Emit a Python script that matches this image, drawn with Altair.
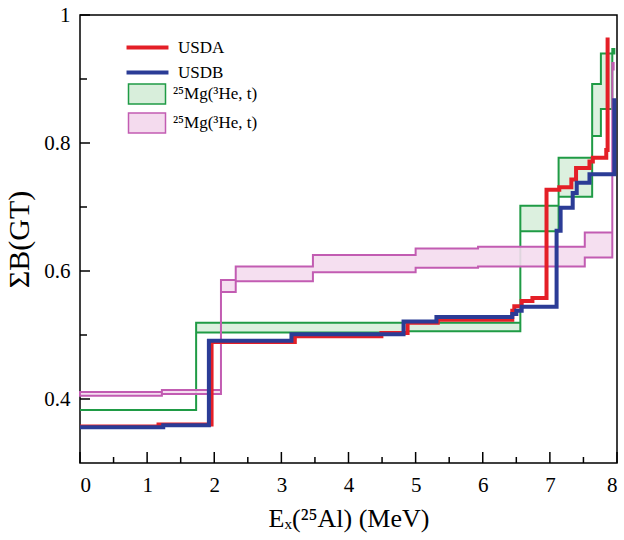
import altair as alt
import pandas as pd

# ---- data ----
usda_e = [0, 1.17, 1.96, 3.2, 4.49, 4.88, 5.33, 6.44, 6.47, 6.58, 6.74, 6.95, 7.14, 7.32, 7.39, 7.59, 7.64, 7.84, 7.86]
usda_b = [0.357, 0.360, 0.489, 0.498, 0.503, 0.519, 0.524, 0.538, 0.545, 0.553, 0.558, 0.727, 0.731, 0.743, 0.761, 0.771, 0.777, 0.789, 0.965]

usdb_e = [0, 1.24, 1.92, 3.15, 4.82, 5.31, 6.44, 6.5, 6.58, 7.1, 7.16, 7.34, 7.4, 7.59, 7.96]
usdb_b = [0.356, 0.359, 0.491, 0.501, 0.521, 0.528, 0.533, 0.538, 0.544, 0.663, 0.699, 0.722, 0.738, 0.751, 0.870]

green_e = [0, 1.73, 4.88, 6.56, 7.13, 7.63, 7.76, 7.93, 7.96]
green_hi = [0.383, 0.519, 0.519, 0.702, 0.777, 0.892, 0.940, 0.947, 0.947]
green_lo = [0.383, 0.504, 0.506, 0.662, 0.716, 0.811, 0.853, 0.940, 0.940]

pink_e = [0, 1.22, 2.1, 2.32, 3.47, 5.0, 5.93, 7.52, 7.93, 7.95]
pink_hi = [0.411, 0.414, 0.586, 0.607, 0.625, 0.635, 0.638, 0.660, 0.925, 0.925]
pink_lo = [0.405, 0.408, 0.567, 0.584, 0.598, 0.605, 0.607, 0.621, 0.915, 0.915]

x_major = [0, 1, 2, 3, 4, 5, 6, 7, 8]
x_minor = [0.5, 1.5, 2.5, 3.5, 4.5, 5.5, 6.5, 7.5]
y_major = [0.4, 0.6, 0.8, 1.0]
y_minor = [0.5, 0.7, 0.9]

models = ["USDA", "USDB"]
bands = ["g", "p"]
band_label = "²⁵Mg(³He, t)"

# ---- tables ----
lines_df = pd.DataFrame({
    "E": usda_e + usdb_e,
    "B": usda_b + usdb_b,
    "model": ["USDA"] * len(usda_e) + ["USDB"] * len(usdb_e),
})
bands_df = pd.DataFrame({
    "E": green_e + pink_e,
    "hi": green_hi + pink_hi,
    "lo": green_lo + pink_lo,
    "band": ["g"] * len(green_e) + ["p"] * len(pink_e),
})
xmaj_df = pd.DataFrame({"v": x_major})
xmin_df = pd.DataFrame({"v": x_minor})
ymaj_df = pd.DataFrame({"v": y_major})
ymin_df = pd.DataFrame({"v": y_minor})

W, H = 537, 448
SERIF = "Liberation Serif, Times New Roman, serif"
RED, BLUE = "#e41f27", "#2b3c96"
GREEN, PINK = "#1f9b45", "#c25cb2"
GFILL, PFILL = "#d8eedb", "#f4dbee"

xs = alt.Scale(domain=[0, 8], nice=False, zero=False)
ys = alt.Scale(domain=[0.3, 1.0], nice=False, zero=False)

x_axis = alt.Axis(values=x_major, format="d", ticks=False, domain=False, grid=False,
                  tickSize=0, labelPadding=11, labelFont=SERIF, labelFontSize=21,
                  labelColor="black", title="Eₓ(²⁵Al) (MeV)", titleFont=SERIF,
                  titleFontSize=26, titleFontWeight="normal", titleColor="black",
                  titlePadding=10)
y_axis = alt.Axis(values=y_major, ticks=False, domain=False, grid=False, tickSize=0,
                  labelExpr="datum.value == 1 ? '1' : format(datum.value, '.1f')",
                  labelPadding=10, labelFont=SERIF, labelFontSize=21, labelColor="black",
                  title="ΣB(GT)", titleFont=SERIF, titleFontSize=30,
                  titleFontWeight="normal", titleColor="black", titlePadding=9)

line_leg = alt.Legend(title=None, orient="none", legendX=43, legendY=24, padding=0,
                      symbolType="M-4,0H4", symbolSize=110, symbolStrokeWidth=4,
                      symbolOffset=16, labelOffset=22, rowPadding=7,
                      labelFont=SERIF, labelFontSize=17, labelColor="black")
band_leg = alt.Legend(title=None, orient="none", legendX=48, legendY=68, padding=0,
                      symbolType="M-1.85,-1H1.85V1H-1.85Z", symbolSize=400,
                      symbolStrokeWidth=1.5, symbolOffset=8, symbolOpacity=1,
                      labelOffset=15, rowPadding=3,
                      labelExpr="'" + band_label + "'",
                      labelFont=SERIF, labelFontSize=17, labelColor="black")

band_layer = alt.Chart(bands_df).mark_area(
    interpolate="step-after", strokeWidth=2, fillOpacity=0.9
).encode(
    x=alt.X("E:Q", scale=xs, axis=x_axis),
    y=alt.Y("hi:Q", scale=ys, axis=y_axis),
    y2="lo:Q",
    fill=alt.Fill("band:N", scale=alt.Scale(domain=bands, range=[GFILL, PFILL]), legend=band_leg),
    stroke=alt.Stroke("band:N", scale=alt.Scale(domain=bands, range=[GREEN, PINK]), legend=band_leg),
    detail="band:N",
)

line_layer = alt.Chart(lines_df).mark_line(
    interpolate="step-after", strokeWidth=4
).encode(
    x=alt.X("E:Q", scale=xs),
    y=alt.Y("B:Q", scale=ys),
    color=alt.Color("model:N", scale=alt.Scale(domain=models, range=[RED, BLUE]), legend=line_leg),
)

tick_x_major = alt.Chart(xmaj_df).mark_rule(color="black", strokeWidth=1.5).encode(
    x=alt.X("v:Q", scale=xs), y=alt.value(H), y2=alt.value(H - 11))
tick_x_minor = alt.Chart(xmin_df).mark_rule(color="black", strokeWidth=1.5).encode(
    x=alt.X("v:Q", scale=xs), y=alt.value(H), y2=alt.value(H - 6))
tick_y_major = alt.Chart(ymaj_df).mark_rule(color="black", strokeWidth=1.5).encode(
    y=alt.Y("v:Q", scale=ys), x=alt.value(0), x2=alt.value(10))
tick_y_minor = alt.Chart(ymin_df).mark_rule(color="black", strokeWidth=1.5).encode(
    y=alt.Y("v:Q", scale=ys), x=alt.value(0), x2=alt.value(7))

chart = alt.layer(
    band_layer, line_layer, tick_x_major, tick_x_minor, tick_y_major, tick_y_minor
).properties(
    width=W, height=H,
    autosize=alt.AutoSizeParams(type="none"),
    padding={"left": 80, "top": 15, "right": 7, "bottom": 77},
    background="white",
).configure_view(stroke="black", strokeWidth=1.5)

chart.save("out.html", embed_options={"renderer": "svg", "actions": False})
